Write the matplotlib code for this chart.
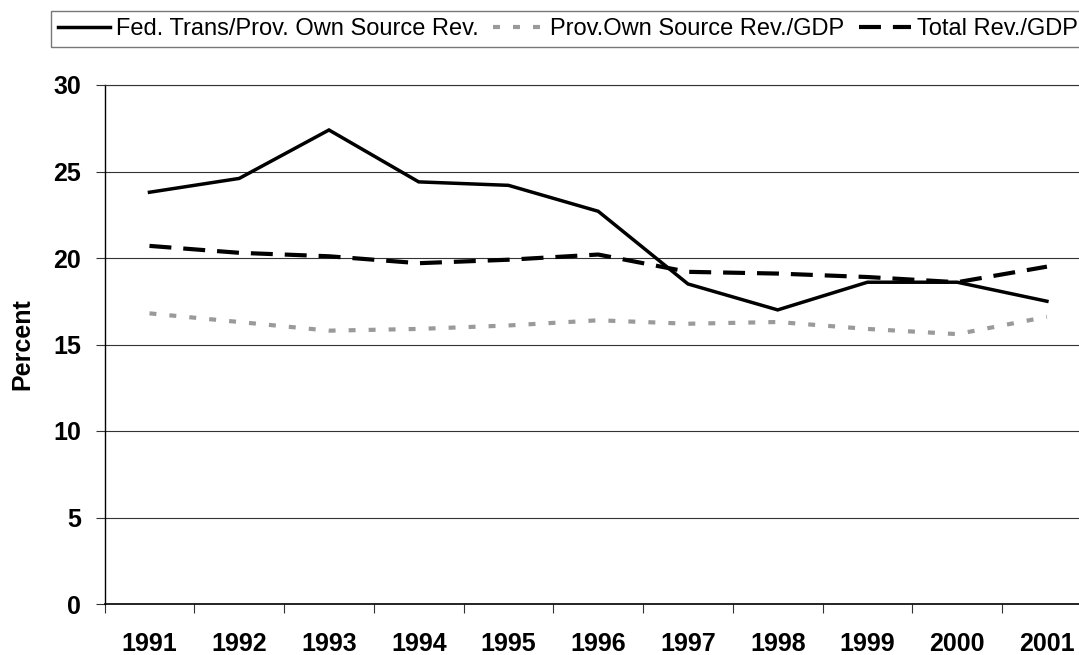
import numpy as np
import matplotlib
matplotlib.use("Agg")
import matplotlib.pyplot as plt

# values (percent)
years = ["1991", "1992", "1993", "1994", "1995", "1996",
         "1997", "1998", "1999", "2000", "2001"]
fed_trans = [23.8, 24.6, 27.4, 24.4, 24.2, 22.7, 18.5, 17.0, 18.6, 18.6, 17.5]
prov_own = [16.8, 16.3, 15.8, 15.9, 16.1, 16.4, 16.2, 16.3, 15.9, 15.6, 16.6]
total_rev = [20.7, 20.3, 20.1, 19.7, 19.9, 20.2, 19.2, 19.1, 18.9, 18.6, 19.5]
yticks = [0, 5, 10, 15, 20, 25, 30]

plt.rcParams["font.family"] = ["Liberation Sans", "DejaVu Sans"]
plt.rcParams["lines.scale_dashes"] = False

W, H = 1079, 655
fig = plt.figure(figsize=(W / 100, H / 100), dpi=100)
# plot area runs past the right edge of the picture, like the cropped original
ax = fig.add_axes([104.6 / W, 1 - 604 / H, 987.2 / W, 519 / H])

x = np.arange(len(years))
ax.plot(x, fed_trans, color="black", lw=2.5, solid_joinstyle="miter",
        label="Fed. Trans/Prov. Own Source Rev.")
ax.plot(x, prov_own, color="#9a9a9a", lw=3.0, dashes=(5.0, 9.4),
        label="Prov.Own Source Rev./GDP")
ax.plot(x, total_rev, color="black", lw=3.0, dashes=(15.8, 8.6),
        label="Total Rev./GDP")

ax.set_xlim(-0.5, len(years) - 0.5)
ax.set_ylim(0, 30)

ax.set_xticks(x)
ax.set_xticklabels(years, fontsize=18, fontweight="bold")
ax.set_xticks(np.arange(-0.5, len(years)), minor=True)
ax.tick_params(axis="x", which="major", length=0, pad=20)
ax.tick_params(axis="x", which="minor", length=6.5, width=0.8,
               direction="out", color="#333333")

ax.set_yticks(yticks)
ax.set_yticklabels([str(v) for v in yticks], fontsize=18, fontweight="bold")
ax.tick_params(axis="y", length=6.5, width=0.8, direction="out",
               color="#333333", pad=10.5)

ax.grid(axis="y", color="#333333", lw=0.8)
ax.set_axisbelow(True)
ax.spines["right"].set_visible(False)
ax.spines["top"].set_color("#333333")
ax.spines["top"].set_linewidth(0.8)
ax.spines["left"].set_linewidth(1.0)
ax.spines["bottom"].set_linewidth(1.2)

ax.set_ylabel("Percent", fontsize=18, fontweight="bold")
ax.yaxis.set_label_coords(-0.071, 0.5)

# legend box is cut by the right edge in the original too
leg = fig.legend(loc="upper left", bbox_to_anchor=(50.7 / W, 1 - 11 / H),
                 ncol=3, fontsize=17, frameon=True, fancybox=False,
                 borderaxespad=0, borderpad=0.3, handlelength=2.2,
                 handletextpad=0.25, columnspacing=0.6)
leg.get_frame().set_edgecolor("#555555")
leg.get_frame().set_linewidth(1.0)

fig.savefig("out.png", dpi=100)
